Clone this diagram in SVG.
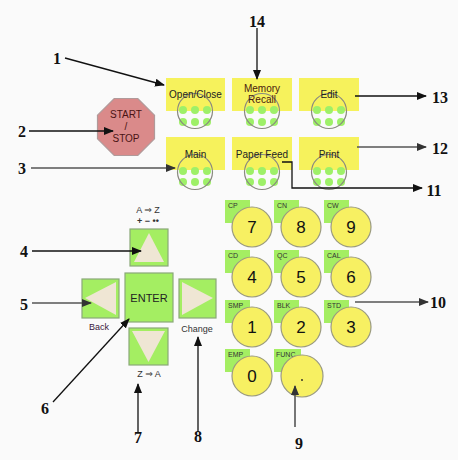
<svg xmlns="http://www.w3.org/2000/svg" width="458" height="460" viewBox="0 0 458 460">
<defs>
<style>
.lbl{font-family:"Liberation Serif","Times New Roman",serif;font-weight:bold;font-size:16px;fill:#111;text-anchor:middle}
.btxt{font-family:"Liberation Sans",Arial,sans-serif;font-size:10px;fill:#222;text-anchor:middle}
.ybox{fill:#f6f25c}
.ring{fill:none;stroke:#8a8a80;stroke-width:1.2}
.dot{fill:#9ef068}
.nav{fill:#a4ee62;stroke:#8aa878;stroke-width:1.2}
.tri{fill:#efe6d4}
.tab{fill:#a4ee62}
.key{fill:#f7f062;stroke:#9a9a80;stroke-width:1.2}
.dig{font-family:"Liberation Sans",Arial,sans-serif;font-size:17px;fill:#111;text-anchor:middle}
.tl{font-family:"Liberation Sans",Arial,sans-serif;font-size:7px;fill:#333}
.small{font-family:"Liberation Sans","DejaVu Sans",sans-serif;font-size:9px;fill:#333;text-anchor:middle}
.ln{stroke:#111;stroke-width:1.3;fill:none}
.lg{stroke:#555;stroke-width:1.6;fill:none}
</style>
<marker id="ah" markerUnits="userSpaceOnUse" markerWidth="10" markerHeight="8" refX="9" refY="4" orient="auto"><path d="M0,0 L10,4 L0,8 z" fill="#111"/></marker>
<marker id="ahg" markerUnits="userSpaceOnUse" markerWidth="10" markerHeight="8" refX="9" refY="4" orient="auto"><path d="M0,0 L10,4 L0,8 z" fill="#333"/></marker>
</defs>
<rect width="458" height="460" fill="#fafafa"/>

<g id="start-stop">
<polygon points="114.2,98.5 137.8,98.5 154.5,115.2 154.5,138.8 137.8,155.5 114.2,155.5 97.5,138.8 97.5,115.2" fill="#da8a8a" stroke="#b09a9a" stroke-width="1.2"/>
<text x="126" y="118" class="btxt" fill="#4a1414" style="fill:#4a1414">START</text>
<text x="126" y="130" class="btxt" style="fill:#4a1414">/</text>
<text x="126" y="142" class="btxt" style="fill:#4a1414">STOP</text>
</g>

<g id="open-close">
<rect class="ybox" x="166" y="78" width="59" height="33"/>
<circle class="dot" cx="183" cy="110" r="4"/><circle class="dot" cx="195" cy="110" r="4"/><circle class="dot" cx="207" cy="110" r="4"/>
<circle class="dot" cx="183" cy="122" r="4"/><circle class="dot" cx="195" cy="122" r="4"/><circle class="dot" cx="207" cy="122" r="4"/>
<circle class="ring" cx="195" cy="111" r="17.5"/>
<text x="195.5" y="98" class="btxt">Open/Close</text>
</g>
<g id="memory-recall">
<rect class="ybox" x="232" y="78" width="60" height="33"/>
<circle class="dot" cx="250" cy="110" r="4"/><circle class="dot" cx="262" cy="110" r="4"/><circle class="dot" cx="274" cy="110" r="4"/>
<circle class="dot" cx="250" cy="122" r="4"/><circle class="dot" cx="262" cy="122" r="4"/><circle class="dot" cx="274" cy="122" r="4"/>
<circle class="ring" cx="262" cy="111" r="17.5"/>
<text x="262" y="92" class="btxt" style="fill:#4a2010">Memory</text>
<text x="262" y="103" class="btxt" style="fill:#4a2010">Recall</text>
</g>
<g id="edit">
<rect class="ybox" x="299" y="78" width="60" height="33"/>
<circle class="dot" cx="317" cy="110" r="4"/><circle class="dot" cx="329" cy="110" r="4"/><circle class="dot" cx="341" cy="110" r="4"/>
<circle class="dot" cx="317" cy="122" r="4"/><circle class="dot" cx="329" cy="122" r="4"/><circle class="dot" cx="341" cy="122" r="4"/>
<circle class="ring" cx="329" cy="111" r="17.5"/>
<text x="329" y="98" class="btxt">Edit</text>
</g>
<g id="main">
<rect class="ybox" x="166" y="137" width="59" height="33"/>
<circle class="dot" cx="183" cy="171" r="4"/><circle class="dot" cx="195" cy="171" r="4"/><circle class="dot" cx="207" cy="171" r="4"/>
<circle class="dot" cx="183" cy="182" r="4"/><circle class="dot" cx="195" cy="182" r="4"/><circle class="dot" cx="207" cy="182" r="4"/>
<circle class="ring" cx="195" cy="172" r="17.5"/>
<text x="195.5" y="158" class="btxt">Main</text>
</g>
<g id="paper-feed">
<rect class="ybox" x="232" y="137" width="60" height="33"/>
<circle class="dot" cx="250" cy="171" r="4"/><circle class="dot" cx="262" cy="171" r="4"/><circle class="dot" cx="274" cy="171" r="4"/>
<circle class="dot" cx="250" cy="182" r="4"/><circle class="dot" cx="262" cy="182" r="4"/><circle class="dot" cx="274" cy="182" r="4"/>
<circle class="ring" cx="262" cy="172" r="17.5"/>
<text x="262" y="158" class="btxt">Paper Feed</text>
</g>
<g id="print">
<rect class="ybox" x="299" y="137" width="60" height="33"/>
<circle class="dot" cx="317" cy="171" r="4"/><circle class="dot" cx="329" cy="171" r="4"/><circle class="dot" cx="341" cy="171" r="4"/>
<circle class="dot" cx="317" cy="182" r="4"/><circle class="dot" cx="329" cy="182" r="4"/><circle class="dot" cx="341" cy="182" r="4"/>
<circle class="ring" cx="329" cy="172" r="17.5"/>
<text x="329" y="158" class="btxt">Print</text>
</g>

<g id="nav-up">
<text x="148" y="213" class="small">A ⇒ Z</text>
<text x="148" y="224" class="small" style="font-weight:bold">+ − ••</text>
<rect class="nav" x="130" y="229" width="38" height="37"/>
<polygon class="tri" points="149,233 134,262 164,262"/>
</g>
<g id="nav-enter">
<rect class="nav" x="125" y="273" width="48" height="49"/>
<text x="149" y="302" class="btxt" style="font-size:11px">ENTER</text>
</g>
<g id="nav-back">
<rect class="nav" x="82" y="279" width="37" height="39"/>
<polygon class="tri" points="85,298 116,282 116,315"/>
<text x="99" y="330" class="small" style="fill:#3a2040">Back</text>
</g>
<g id="nav-change">
<rect class="nav" x="179" y="279" width="37" height="39"/>
<polygon class="tri" points="213,298 182,282 182,315"/>
<text x="197" y="332" class="small">Change</text>
</g>
<g id="nav-down">
<rect class="nav" x="129" y="328" width="39" height="37"/>
<polygon class="tri" points="132,331 165,331 148.5,362"/>
<text x="149" y="377" class="small">Z ⇒ A</text>
</g>

<g id="key-7"><rect class="tab" x="225" y="200" width="25" height="23"/><text x="228" y="208" class="tl">CP</text><circle class="key" cx="252" cy="227" r="20"/><text x="252" y="233" class="dig">7</text></g>
<g id="key-8"><rect class="tab" x="274" y="200" width="25" height="23"/><text x="277" y="208" class="tl">CN</text><circle class="key" cx="301" cy="227" r="20"/><text x="301" y="233" class="dig">8</text></g>
<g id="key-9"><rect class="tab" x="324" y="200" width="25" height="23"/><text x="327" y="208" class="tl">CW</text><circle class="key" cx="351" cy="227" r="20"/><text x="351" y="233" class="dig">9</text></g>
<g id="key-4"><rect class="tab" x="225" y="250" width="25" height="23"/><text x="228" y="258" class="tl">CD</text><circle class="key" cx="252" cy="277" r="20"/><text x="252" y="283" class="dig">4</text></g>
<g id="key-5"><rect class="tab" x="274" y="250" width="25" height="23"/><text x="277" y="258" class="tl">QC</text><circle class="key" cx="301" cy="277" r="20"/><text x="301" y="283" class="dig">5</text></g>
<g id="key-6"><rect class="tab" x="324" y="250" width="25" height="23"/><text x="327" y="258" class="tl">CAL</text><circle class="key" cx="351" cy="277" r="20"/><text x="351" y="283" class="dig">6</text></g>
<g id="key-1"><rect class="tab" x="225" y="300" width="25" height="23"/><text x="228" y="308" class="tl">SMP</text><circle class="key" cx="252" cy="327" r="20"/><text x="252" y="333" class="dig">1</text></g>
<g id="key-2"><rect class="tab" x="274" y="300" width="25" height="23"/><text x="277" y="308" class="tl">BLK</text><circle class="key" cx="301" cy="327" r="20"/><text x="301" y="333" class="dig">2</text></g>
<g id="key-3"><rect class="tab" x="324" y="300" width="25" height="23"/><text x="327" y="308" class="tl">STD</text><circle class="key" cx="351" cy="327" r="20"/><text x="351" y="333" class="dig">3</text></g>
<g id="key-0"><rect class="tab" x="225" y="349" width="25" height="23"/><text x="228" y="357" class="tl">EMP</text><circle class="key" cx="252" cy="376" r="20"/><text x="252" y="382" class="dig">0</text></g>
<g id="key-dot"><rect class="tab" x="274" y="349" width="27" height="23"/><text x="276" y="357" class="tl">FUNC</text><circle class="key" cx="302" cy="376" r="21"/><circle cx="302" cy="380" r="0.9" fill="#222"/></g>

<g id="connectors">
<line class="ln" x1="65" y1="58" x2="164" y2="85" marker-end="url(#ah)"/>
<line class="ln" x1="29" y1="131" x2="113" y2="131" marker-end="url(#ah)"/>
<line class="lg" x1="31" y1="168" x2="175" y2="168" marker-end="url(#ahg)"/>
<line class="ln" x1="257" y1="28" x2="257" y2="79" marker-end="url(#ah)"/>
<line class="ln" x1="355" y1="96" x2="426" y2="96" marker-end="url(#ah)"/>
<line class="lg" x1="357" y1="147" x2="426" y2="147" marker-end="url(#ahg)"/>
<polyline class="ln" points="282,162 292,162 292,188 422,188" marker-end="url(#ah)"/>
<line class="ln" x1="32" y1="251" x2="141" y2="251" marker-end="url(#ah)"/>
<line class="lg" x1="32" y1="303" x2="91" y2="303" marker-end="url(#ahg)"/>
<line class="ln" x1="53" y1="402" x2="129" y2="319" marker-end="url(#ah)"/>
<line class="ln" x1="138" y1="432" x2="138" y2="384" marker-end="url(#ah)"/>
<line class="ln" x1="198" y1="432" x2="198" y2="337" marker-end="url(#ah)"/>
<line class="lg" x1="295" y1="427" x2="295" y2="386" marker-end="url(#ahg)"/>
<line class="lg" x1="355" y1="302" x2="428" y2="302" marker-end="url(#ahg)"/>
</g>

<g id="labels">
<text x="57" y="64" class="lbl">1</text>
<text x="22" y="137" class="lbl">2</text>
<text x="22" y="174" class="lbl">3</text>
<text x="257" y="27" class="lbl">14</text>
<text x="440" y="103" class="lbl">13</text>
<text x="440" y="154" class="lbl">12</text>
<text x="434" y="196" class="lbl">11</text>
<text x="24" y="257" class="lbl">4</text>
<text x="24" y="310" class="lbl">5</text>
<text x="45" y="414" class="lbl">6</text>
<text x="138" y="443" class="lbl">7</text>
<text x="198" y="442" class="lbl">8</text>
<text x="299" y="449" class="lbl">9</text>
<text x="438" y="308" class="lbl">10</text>
</g>
</svg>
